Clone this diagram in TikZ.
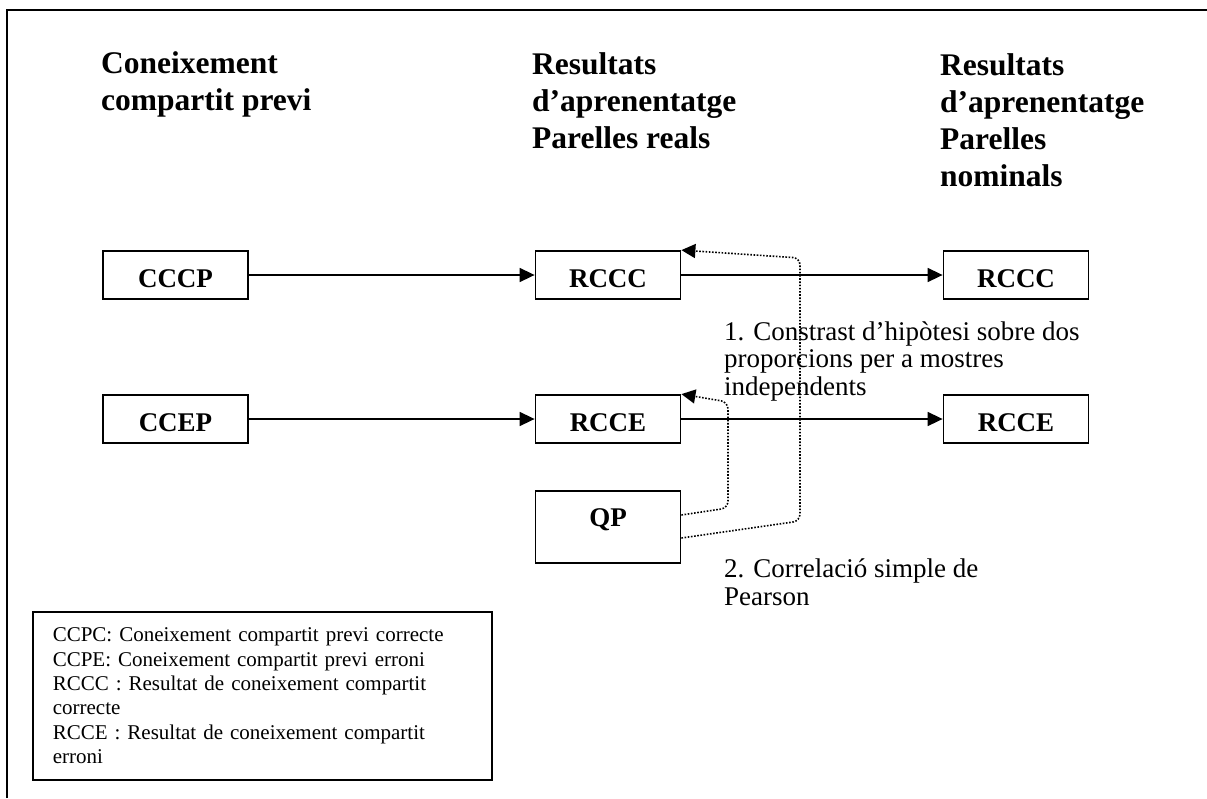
\documentclass[tikz,border=0pt]{standalone}
\usepackage{fontspec}
\setmainfont{Liberation Serif}
\usetikzlibrary{arrows.meta}
\begin{document}
\begin{tikzpicture}[x=1pt,y=-1pt,
  box/.style={draw, line width=1.8pt, minimum width=145pt, minimum height=48pt,
    inner sep=0pt, font=\fontsize{27}{30}\selectfont\bfseries,
    text height=24pt, text depth=0pt},
  head/.style={anchor=base west, align=left, inner sep=0pt,
    font=\fontsize{31.5}{37}\selectfont\bfseries},
  note/.style={anchor=base west, align=left, inner sep=0pt,
    font=\fontsize{27}{27.5}\selectfont},
  link/.style={line width=1.6pt, -{Triangle[length=15pt,width=14pt]}},
  dotlink/.style={line width=1.6pt, dash pattern=on 1.6pt off 1.6pt,
    -{Triangle[length=14pt,width=14pt]}, rounded corners=7pt}
]
\useasboundingbox (0,0) rectangle (1207,798);

% page frame (open at right and bottom)
\draw[line width=2pt] (7,798) -- (7,10) -- (1207,10);

% column headings (anchored at the baseline of their last line)
\node[head] (h1) at (101,110) {Coneixement\\compartit previ};
\node[head] (h2) at (532,148) {Resultats\\d’aprenentatge\\Parelles reals};
\node[head] (h3) at (940,186) {Resultats\\d’aprenentatge\\Parelles\\nominals};

% boxes
\node[box] (cccp) at (175.5,275) {CCCP};
\node[box] (ccep) at (175.5,419) {CCEP};
\node[box] (rccc) at (608,275) {RCCC};
\node[box] (rcce) at (608,419) {RCCE};
\node[box, minimum height=72pt, text depth=26pt] (qp) at (608,527) {QP};
\node[box] (rccc2) at (1016,275) {RCCC};
\node[box] (rcce2) at (1016,419) {RCCE};

% main flows
\draw[link] (cccp) -- (rccc);
\draw[link] (ccep) -- (rcce);
\draw[link] (rccc) -- (rccc2);
\draw[link] (rcce) -- (rcce2);

% analyses linking QP with the results
\draw[dotlink] ([yshift=12pt]qp.east) -- (728,508) -- (728,402) -- (rcce.north east);
\draw[dotlink] ([yshift=-11pt]qp.east) -- (800,521) -- (800,258) -- (rccc.north east);

% analysis labels
\node[note] (n1) at (724,395) {1. Constrast d’hipòtesi sobre dos\\proporcions per a mostres\\independents};
\node[note] (n2) at (724,605) {2. Correlació simple de\\Pearson};

% legend
\node[draw, line width=1.6pt, anchor=north west, text width=419pt,
  inner xsep=20pt, inner ysep=0pt, minimum height=168pt, align=left,
  font=\fontsize{21}{24.3}\selectfont] (legend) at (32,611)
  {CCPC: Coneixement compartit previ correcte\\
   CCPE: Coneixement compartit previ erroni\\
   RCCC : Resultat de coneixement compartit\\
   correcte\\
   RCCE : Resultat de coneixement compartit\\
   erroni};
\end{tikzpicture}
\end{document}
